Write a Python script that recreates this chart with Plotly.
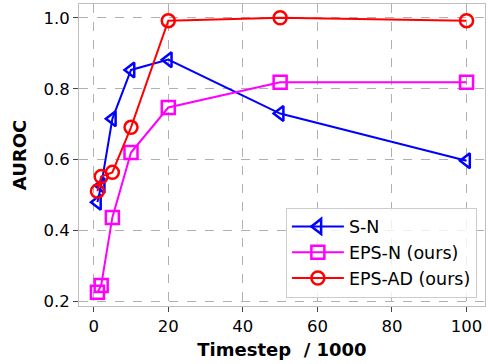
import plotly.graph_objects as go

timesteps = [1, 2, 5, 10, 20, 50, 100]
sn = [0.48, 0.527, 0.715, 0.853, 0.882, 0.73, 0.597]
eps_n = [0.226, 0.245, 0.437, 0.62, 0.747, 0.818, 0.818]
eps_ad = [0.511, 0.552, 0.564, 0.691, 0.992, 1.0, 0.992]

x_ticks = [0, 20, 40, 60, 80, 100]
y_ticks = [0.2, 0.4, 0.6, 0.8, 1.0]

series = [
    ("S-N", sn, "blue", "triangle-left-open"),
    ("EPS-N (ours)", eps_n, "magenta", "square-open"),
    ("EPS-AD (ours)", eps_ad, "red", "circle-open"),
]

fig = go.Figure()
for name, vals, color, sym in series:
    fig.add_trace(go.Scatter(
        x=timesteps, y=vals, name=name, mode="lines+markers", legendgroup=name,
        line=dict(color=color, width=2),
        marker=dict(symbol=sym, size=13, color=color, line=dict(width=2.5, color=color)),
    ))

font_family = "DejaVu Sans"
fig.update_layout(
    width=488, height=364,
    margin=dict(l=79, r=3, t=4, b=58, autoexpand=False),
    plot_bgcolor="white", paper_bgcolor="white",
    font=dict(family=font_family, size=16.5, color="black"),
    showlegend=True,
    legend=dict(
        x=0.98, y=0.028, xanchor="right", yanchor="bottom",
        bgcolor="rgba(255,255,255,0.8)", bordercolor="#cccccc", borderwidth=1,
        font=dict(size=17.5, family=font_family),
        tracegroupgap=0, itemwidth=52,
    ),
)
fig.update_xaxes(
    range=[-3.95, 104.95], tickvals=x_ticks, ticktext=[str(v) for v in x_ticks],
    showgrid=True, gridcolor="#b0b0b0", griddash="dash", gridwidth=1,
    showline=True, linecolor="#bfbfbf", linewidth=1, mirror=True,
    ticks="outside", ticklen=5, tickcolor="#444444", zeroline=False,
    tickfont=dict(size=16.5), automargin=False,
    title=dict(text="<b>Timestep\u00a0 / 1000</b>", font=dict(size=18), standoff=8),
)
fig.update_yaxes(
    range=[0.187, 1.039], tickvals=y_ticks, ticktext=[f"{v:.1f}" for v in y_ticks],
    showgrid=True, gridcolor="#b0b0b0", griddash="dash", gridwidth=1,
    showline=True, linecolor="#bfbfbf", linewidth=1, mirror=True,
    ticks="outside", ticklen=5, tickcolor="#444444", zeroline=False,
    tickfont=dict(size=16.5), automargin=False,
    title=dict(text="<b>AUROC</b>", font=dict(size=18), standoff=12),
)

fig.write_html("out.html", config={"displayModeBar": False},
               post_script="document.body.style.margin='0';")
